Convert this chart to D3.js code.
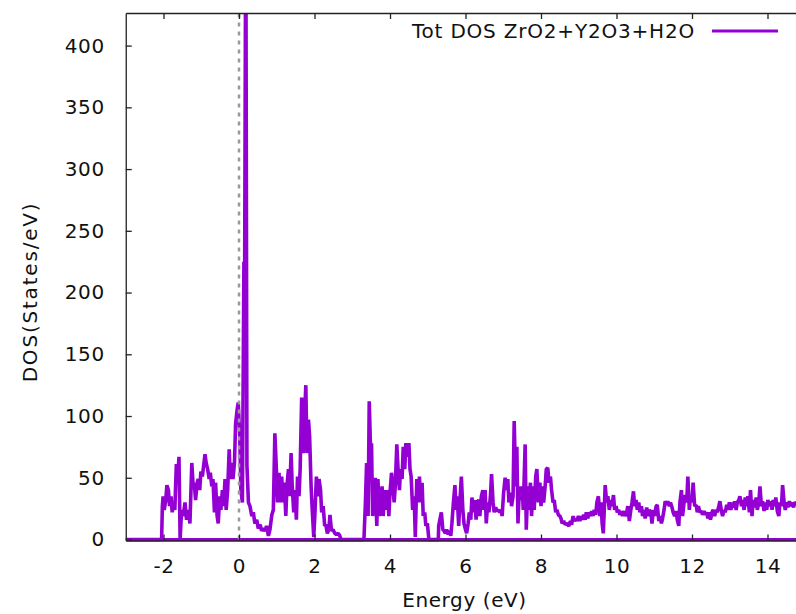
<!DOCTYPE html>
<html>
<head>
<meta charset="utf-8">
<title>Tot DOS ZrO2+Y2O3+H2O</title>
<script src="https://d3js.org/d3.v7.min.js"></script>
<style>
  body { margin: 0; background: #fff; }
  svg { display: block; font-family: "DejaVu Sans", sans-serif; }
</style>
</head>
<body>
<svg id="chart" width="796" height="614"></svg>
<script>
// tick values and labels
var xTicks = [-2, 0, 2, 4, 6, 8, 10, 12, 14];
var yTicks = [0, 50, 100, 150, 200, 250, 300, 350, 400];
var xLabel = "Energy (eV)";
var yLabel = "DOS(States/eV)";
var legendLabel = "Tot DOS ZrO2+Y2O3+H2O";
var fermiLevel = 0;

// total DOS: [energy (eV), DOS (states/eV)]
var dosCurve = [
  [-3.5,0],[-2.05,0],
  [-2.03,27],[-2.01,35],[-1.98,24],[-1.94,32],[-1.91,44],[-1.87,40],[-1.84,27],[-1.80,35],[-1.77,22],[-1.73,30],[-1.70,24],[-1.66,61],[-1.62,51],[-1.59,67],[-1.56,0],
  [-1.52,24],[-1.48,19],[-1.43,30],[-1.39,16],[-1.34,24],[-1.30,13],[-1.25,62],[-1.22,46],[-1.18,43],[-1.15,32],[-1.11,46],[-1.08,49],[-1.04,40],[-1.01,55],
  [-0.97,51],[-0.94,59],[-0.90,69],[-0.87,62],[-0.83,57],[-0.79,49],[-0.76,54],[-0.72,43],[-0.69,49],[-0.65,22],[-0.62,46],[-0.58,19],[-0.55,13],[-0.51,35],
  [-0.48,24],[-0.44,40],[-0.41,27],[-0.37,49],[-0.34,24],[-0.30,40],[-0.26,73],[-0.23,49],[-0.19,62],[-0.16,49],[-0.12,62],[-0.09,94],[-0.05,105],[-0.02,111],
  [0.02,84],[0.05,40],[0.09,30],[0.13,225],[0.15,220],[0.18,520],[0.21,60],[0.25,30],[0.29,27],[0.34,19],[0.38,22],[0.42,13],[0.47,16],[0.51,9],[0.56,12],
  [0.60,7],[0.64,9],[0.69,7],[0.73,11],[0.78,3],[0.82,8],[0.87,20],[0.91,24],[0.95,86],[0.99,57],[1.02,30],[1.06,54],[1.09,30],[1.13,51],[1.17,30],[1.20,46],
  [1.24,19],[1.27,43],[1.31,57],[1.34,35],[1.38,70],[1.41,43],[1.45,22],[1.48,40],[1.52,16],[1.55,51],[1.59,35],[1.62,57],[1.66,115],[1.70,70],[1.73,92],
  [1.77,125],[1.80,70],[1.84,97],[1.87,84],[1.91,43],[1.94,24],[1.98,2],[2.01,20],[2.05,51],[2.09,35],[2.12,49],[2.16,40],[2.19,22],[2.23,27],[2.27,11],
  [2.30,12],[2.34,5],[2.38,8],[2.41,20],[2.45,7],[2.49,8],[2.54,5],[2.58,4],[2.63,5],[2.67,3],[2.70,0],[3.31,0],
  [3.35,31],[3.38,62],[3.42,19],[3.45,112],[3.49,67],[3.51,78],[3.54,19],[3.58,35],[3.61,50],[3.65,11],[3.68,49],[3.72,19],[3.75,30],[3.79,43],[3.82,19],
  [3.86,40],[3.89,24],[3.93,40],[3.97,19],[4.00,38],[4.04,54],[4.07,46],[4.11,30],[4.14,43],[4.18,77],[4.21,59],[4.25,40],[4.28,57],[4.32,49],[4.35,75],
  [4.39,57],[4.42,78],[4.46,67],[4.50,78],[4.53,57],[4.56,51],[4.60,24],[4.64,35],[4.67,2],[4.71,49],[4.74,30],[4.78,51],[4.81,30],[4.85,46],[4.88,19],
  [4.92,22],[4.95,11],[4.99,13],[5.03,0],[5.28,0],
  [5.29,11],[5.32,16],[5.36,22],[5.40,8],[5.43,7],[5.47,5],[5.50,8],[5.54,4],[5.57,7],[5.61,3],[5.64,13],[5.68,30],[5.72,44],[5.75,24],[5.78,35],[5.82,11],
  [5.85,30],[5.89,51],[5.93,24],[5.96,13],[6.00,8],[6.03,5],[6.07,13],[6.10,22],[6.14,16],[6.17,34],[6.21,22],[6.25,32],[6.28,16],[6.31,30],[6.35,32],
  [6.38,19],[6.42,35],[6.46,40],[6.49,24],[6.52,40],[6.55,13],[6.59,30],[6.62,22],[6.66,35],[6.69,53],[6.73,30],[6.76,22],[6.80,26],[6.83,23],[6.87,24],
  [6.91,22],[6.94,24],[6.97,19],[7.01,38],[7.05,50],[7.08,40],[7.12,49],[7.15,30],[7.19,38],[7.22,27],[7.26,35],[7.29,96],[7.33,43],[7.36,75],[7.39,13],
  [7.43,43],[7.46,32],[7.50,43],[7.53,24],[7.58,77],[7.61,8],[7.65,43],[7.68,24],[7.72,46],[7.75,19],[7.79,43],[7.82,24],[7.86,51],[7.89,57],[7.93,30],
  [7.97,46],[8.00,27],[8.04,43],[8.07,30],[8.11,43],[8.14,57],[8.18,58],[8.21,46],[8.25,51],[8.28,40],[8.32,30],[8.35,32],[8.39,22],[8.42,24],[8.46,20],
  [8.50,19],[8.53,17],[8.56,13],[8.60,15],[8.64,12],[8.67,13],[8.71,12],[8.74,11],[8.78,15],[8.81,12],[8.85,19],[8.88,15],[8.92,17],[8.95,15],[8.99,19],
  [9.03,15],[9.06,19],[9.09,16],[9.13,20],[9.17,16],[9.20,22],[9.24,17],[9.27,22],[9.31,19],[9.34,23],[9.38,19],[9.41,24],[9.45,20],[9.48,30],[9.52,35],
  [9.56,19],[9.59,30],[9.62,13],[9.65,5],[9.68,27],[9.70,44],[9.74,30],[9.77,35],[9.81,24],[9.85,32],[9.88,27],[9.92,36],[9.95,24],[9.99,27],[10.02,22],
  [10.06,24],[10.09,20],[10.13,23],[10.16,19],[10.20,23],[10.23,19],[10.27,22],[10.30,27],[10.34,15],[10.38,24],[10.41,30],[10.45,39],[10.48,27],[10.52,32],
  [10.55,24],[10.59,30],[10.62,22],[10.66,27],[10.69,19],[10.73,24],[10.76,17],[10.80,26],[10.83,19],[10.87,24],[10.91,22],[10.94,13],[10.98,24],[11.01,19],
  [11.05,27],[11.08,28],[11.12,15],[11.15,19],[11.19,13],[11.22,17],[11.26,24],[11.29,31],[11.33,28],[11.36,31],[11.40,27],[11.43,30],[11.47,26],[11.50,22],
  [11.54,19],[11.58,23],[11.61,16],[11.65,11],[11.68,30],[11.72,40],[11.75,19],[11.79,30],[11.82,36],[11.86,30],[11.89,51],[11.93,24],[11.96,35],[12.00,30],
  [12.03,46],[12.07,27],[12.11,28],[12.14,22],[12.17,27],[12.21,22],[12.25,23],[12.28,20],[12.32,23],[12.35,20],[12.39,22],[12.42,17],[12.46,22],[12.49,16],
  [12.53,22],[12.56,24],[12.60,19],[12.64,24],[12.67,22],[12.71,27],[12.74,31],[12.78,23],[12.81,19],[12.85,24],[12.88,22],[12.92,28],[12.95,24],[12.99,30],
  [13.03,24],[13.06,30],[13.10,26],[13.13,31],[13.17,24],[13.20,30],[13.24,32],[13.27,35],[13.31,27],[13.34,32],[13.38,24],[13.41,34],[13.45,27],[13.48,35],
  [13.52,22],[13.55,40],[13.59,19],[13.62,32],[13.66,26],[13.70,34],[13.73,24],[13.77,30],[13.80,43],[13.84,27],[13.87,31],[13.91,23],[13.94,30],[13.98,24],
  [14.01,32],[14.05,27],[14.09,31],[14.12,24],[14.15,32],[14.19,27],[14.22,34],[14.26,23],[14.30,19],[14.33,30],[14.37,27],[14.40,44],[14.44,30],[14.47,24],
  [14.51,30],[14.54,26],[14.58,31],[14.61,27],[14.65,30],[14.69,26],[14.72,30],[14.80,28],[15.00,27]
];

var plotLeft = 125.75, plotRight = 805.25, plotTop = 13, plotBottom = 539.5;
var dosColor = "#9400d3";

var svg = d3.select("#chart");

var x = d3.scaleLinear().domain([-3, 15]).range([plotLeft, plotRight]);
var y = d3.scaleLinear().domain([0, 426.4]).range([plotBottom, plotTop]);

svg.append("defs").append("clipPath")
  .attr("id", "plot-clip")
  .append("rect")
  .attr("x", plotLeft)
  .attr("y", plotTop)
  .attr("width", plotRight - plotLeft)
  .attr("height", plotBottom - plotTop + 3);

var plot = svg.append("g").attr("clip-path", "url(#plot-clip)");

var line = d3.line()
  .x(function(d) { return x(d[0]); })
  .y(function(d) { return y(d[1]); });

// zero line along the whole energy range
plot.append("path")
  .datum(x.domain().map(function(e) { return [e, 0]; }))
  .attr("d", line)
  .attr("fill", "none")
  .attr("stroke", dosColor)
  .attr("stroke-width", 3);

plot.append("path")
  .datum(dosCurve)
  .attr("d", line)
  .attr("fill", "none")
  .attr("stroke", dosColor)
  .attr("stroke-width", 3.6)
  .attr("stroke-linejoin", "bevel");

// Fermi level
plot.append("line")
  .attr("x1", x(fermiLevel)).attr("x2", x(fermiLevel))
  .attr("y1", y(0)).attr("y2", plotTop)
  .attr("stroke", "#999")
  .attr("stroke-width", 2.5)
  .attr("stroke-dasharray", "4,5");

// axes
var fmt = function(d) { return String(d); };
var xAxis = d3.axisBottom(x).tickValues(xTicks).tickSizeInner(-6).tickSizeOuter(0).tickPadding(18).tickFormat(fmt);
var xTop = d3.axisTop(x).tickValues(xTicks).tickSizeInner(-6).tickSizeOuter(0).tickFormat("");
var yAxis = d3.axisLeft(y).tickValues(yTicks).tickSizeInner(-6).tickSizeOuter(0).tickPadding(21).tickFormat(fmt);

var gx = svg.append("g").attr("transform", "translate(0," + (plotBottom + 1) + ")").call(xAxis);
var gxt = svg.append("g").attr("transform", "translate(0," + plotTop + ")").call(xTop);
var gy = svg.append("g").attr("transform", "translate(" + plotLeft + ",0)").call(yAxis);

[gx, gxt, gy].forEach(function(g) {
  g.select(".domain").attr("stroke", "#222").attr("stroke-width", 1.3);
  g.selectAll(".tick line").attr("stroke", "#222").attr("stroke-width", 1.3);
  g.selectAll("text")
    .attr("fill", "#111")
    .style("font-family", "'DejaVu Sans', sans-serif")
    .style("font-size", "20px")
    .style("letter-spacing", "0.6px");
});

svg.append("text")
  .attr("x", 464.5)
  .attr("y", 607)
  .attr("text-anchor", "middle")
  .attr("fill", "#111")
  .style("font-size", "20px")
  .style("letter-spacing", "0.6px")
  .text(xLabel);

svg.append("text")
  .attr("transform", "translate(37,292) rotate(-90)")
  .attr("text-anchor", "middle")
  .attr("fill", "#111")
  .style("font-size", "20px")
  .style("letter-spacing", "1.8px")
  .text(yLabel);

// key
svg.append("text")
  .attr("x", 695)
  .attr("y", 38)
  .attr("text-anchor", "end")
  .attr("fill", "#111")
  .style("font-size", "20px")
  .style("letter-spacing", "0.8px")
  .text(legendLabel);

svg.append("line")
  .attr("x1", 712).attr("x2", 778)
  .attr("y1", 31).attr("y2", 31)
  .attr("stroke", dosColor)
  .attr("stroke-width", 3);
</script>
</body>
</html>
